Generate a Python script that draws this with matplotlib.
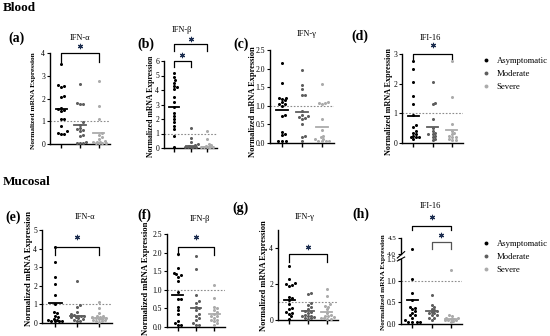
import matplotlib.pyplot as plt
from matplotlib.lines import Line2D

plt.rcParams['font.family'] = ['Liberation Serif', 'DejaVu Serif']

W, H = 550, 336
groups = ["Asymptomatic", "Moderate", "Severe"]
colors = ["#000000", "#5e5e5e", "#ababab"]

# ---- Blood ----
# (a) IFN-alpha
a_asym = [3.5, 2.6, 2.55, 2.5, 2.1, 2.05, 1.6, 1.55, 1.5, 1.45, 1.1, 1.1, 0.8, 0.55, 0.5, 0.45, 0.45]
a_mod = [2.65, 1.8, 1.75, 1.75, 0.95, 0.85, 0.7, 0.65, 0.6, 0.55, 0.4, 0.35, 0.1, 0.05, 0.05, 0.05]
a_sev = [2.75, 1.65, 1.1, 0.5, 0.4, 0.3, 0.2, 0.15, 0.1, 0.1, 0.1, 0.05, 0.05, 0.05, 0.05]
a_mean = [1.55, 0.85, 0.5]
# (b) IFN-beta
b_asym = [5.2, 4.9, 4.7, 4.5, 4.3, 4.2, 4.1, 3.5, 3.2, 2.8, 2.4, 2.2, 2.0, 1.8, 1.5, 1.3, 0.8, 0.05]
b_mod = [1.35, 0.7, 0.4, 0.25, 0.2, 0.15, 0.1, 0.1, 0.05, 0.05, 0.05, 0.05]
b_sev = [1.15, 0.65, 0.3, 0.2, 0.15, 0.1, 0.05, 0.05, 0.05, 0.05, 0.05]
b_mean = [2.8, 0.15, 0.1]
# (c) IFN-gamma
c_asym = [2.15, 1.62, 1.22, 1.2, 1.18, 1.15, 1.1, 1.05, 1.05, 1.0, 0.75, 0.72, 0.3, 0.25, 0.22, 0.05, 0.05, 0.05]
c_mod = [1.95, 1.55, 1.45, 1.3, 1.28, 0.85, 0.75, 0.72, 0.7, 0.68, 0.65, 0.5, 0.2, 0.15, 0.05]
c_sev = [1.58, 1.1, 1.08, 1.07, 1.05, 0.65, 0.35, 0.2, 0.15, 0.12, 0.1, 0.05, 0.05, 0.05, 0.05]
c_mean = [0.88, 0.82, 0.43]
# (d) IFI-16
d_asym = [2.75, 2.5, 2.05, 1.6, 1.3, 0.95, 0.6, 0.55, 0.4, 0.35, 0.3, 0.25, 0.2, 0.2, 0.2, 0.15]
d_mod = [2.05, 1.35, 1.3, 0.8, 0.5, 0.4, 0.35, 0.3, 0.3, 0.25, 0.2, 0.15, 0.1]
d_sev = [2.75, 1.55, 0.65, 0.4, 0.35, 0.3, 0.25, 0.2, 0.2, 0.15, 0.1, 0.1]
d_mean = [0.9, 0.55, 0.45]

# ---- Mucosal ----
e_asym = [4.1, 3.3, 2.5, 2.1, 1.5, 1.0, 0.6, 0.55, 0.4, 0.3, 0.2, 0.15, 0.15, 0.1, 0.1, 0.1, 0.1]
e_mod = [2.25, 0.95, 0.85, 0.6, 0.5, 0.45, 0.4, 0.4, 0.35, 0.3, 0.3, 0.25, 0.2, 0.15, 0.1, 0.1]
e_sev = [1.15, 0.8, 0.55, 0.4, 0.35, 0.3, 0.3, 0.25, 0.25, 0.2, 0.2, 0.15, 0.15, 0.1, 0.1, 0.05]
e_mean = [1.1, 0.4, 0.25]
f_asym = [1.97, 1.58, 1.45, 1.42, 1.4, 1.35, 1.25, 0.95, 0.75, 0.75, 0.55, 0.45, 0.35, 0.15, 0.1, 0.05, 0.05]
f_mod = [1.92, 1.55, 0.85, 0.7, 0.65, 0.55, 0.5, 0.45, 0.35, 0.3, 0.25, 0.2, 0.1, 0.05, 0.05]
f_sev = [1.12, 0.78, 0.55, 0.5, 0.45, 0.4, 0.35, 0.3, 0.3, 0.25, 0.2, 0.2, 0.15, 0.1, 0.05]
f_mean = [0.87, 0.52, 0.36]
g_asym = [3.0, 2.3, 2.05, 2.0, 1.95, 1.9, 1.3, 1.2, 1.1, 0.9, 0.65, 0.6, 0.45, 0.4, 0.35, 0.2, 0.05]
g_mod = [1.5, 1.45, 0.95, 0.85, 0.7, 0.6, 0.5, 0.45, 0.4, 0.3, 0.25, 0.2, 0.2, 0.15, 0.1, 0.1, 0.05]
g_sev = [1.75, 1.35, 0.9, 0.8, 0.75, 0.6, 0.4, 0.3, 0.25, 0.2, 0.15, 0.1, 0.1, 0.05, 0.05]
g_mean = [1.1, 0.5, 0.45]
h_asym = [4.15, 1.05, 0.72, 0.55, 0.4, 0.38, 0.35, 0.3, 0.25, 0.2, 0.2, 0.15, 0.1, 0.05, 0.05, 0.05, 0.05]
h_mod = [0.67, 0.45, 0.4, 0.35, 0.32, 0.3, 0.28, 0.25, 0.25, 0.2, 0.2, 0.15, 0.15, 0.1]
h_sev = [1.25, 0.2, 0.18, 0.15, 0.15, 0.12, 0.12, 0.1, 0.1, 0.1, 0.08, 0.05]
h_mean = [0.55, 0.3, 0.12]

fig = plt.figure(figsize=(W / 100, H / 100), dpi=100)


def px_axes(l, t, r, b):
    return fig.add_axes([l / W, 1 - b / H, (r - l) / W, (b - t) / H])


def ftext(x, y, s, **kw):
    fig.text(x / W, 1 - y / H, s, **kw)


def swarm(ax, vals, xc, d=2.9, max_off=7.5):
    # compact beeswarm in pixel space, overlaps allowed when crowded
    placed = []
    xs, ys = [], []
    x0 = ax.transData.transform((xc, 0))[0]
    inv = ax.transData.inverted()
    offs = [0.0]
    k = 1
    while k * 0.5 * d <= max_off:
        offs += [k * 0.5 * d, -k * 0.5 * d]
        k += 1
    for v in sorted(vals):
        yp = ax.transData.transform((xc, v))[1]
        best, best_d = 0.0, -1
        for off in offs:
            md = min([((off + x0 - px) ** 2 + (yp - py) ** 2) ** 0.5 for px, py in placed] + [99])
            if md >= d:
                best = off
                break
            if md > best_d:
                best, best_d = off, md
        placed.append((x0 + best, yp))
        xs.append(inv.transform((x0 + best, yp))[0])
        ys.append(v)
    return xs, ys


def style(ax, ylim, yticks, fmt="{:g}", bottom=True):
    ax.set_xlim(0.4, 3.6)
    ax.set_ylim(*ylim)
    ax.set_yticks(yticks)
    ax.set_yticklabels([fmt.format(t) for t in yticks])
    ax.spines[['top', 'right']].set_visible(False)
    ax.spines['left'].set_linewidth(1.0)
    ax.spines['bottom'].set_linewidth(1.0)
    ax.set_xticks([1, 2, 3])
    ax.set_xticklabels([])
    ax.tick_params(axis='x', length=3, width=1.0)
    ax.tick_params(axis='y', length=2.5, width=0.8, labelsize=5.5, pad=1)
    if not bottom:
        ax.spines['bottom'].set_visible(False)
        ax.tick_params(axis='x', length=0)


def draw_groups(ax, data, means, dotted=True):
    if dotted:
        ax.axhline(1, color="#8c8c8c", lw=0.8, ls=(0, (1.5, 1.5)), zorder=1)
    for i, (vals, m) in enumerate(zip(data, means)):
        xs, ys = swarm(ax, vals, i + 1)
        ax.plot(xs, ys, 'o', ms=2.2, mew=0, color=colors[i], clip_on=False, zorder=3)
        ax.plot([i + 1 - 0.3, i + 1 + 0.3], [m, m], color=colors[i], lw=1.3, zorder=4)


def bracket(ax, x1, x2, y, leg, ys, color="black"):
    ax.plot([x1, x1, x2, x2], [y - leg, y, y, y - leg], color=color, lw=0.9, clip_on=False)
    ax.plot([(x1 + x2) / 2], [ys], marker=(6, 2, 0), ms=3.8, mew=0.8, color="#1c2d4f",
            ls='none', clip_on=False)


panels = [
    # rect, ylim, ticks, fmt, data, means, title, title pos, label pos/size
    ((50, 53, 110, 144), (0, 4), [0, 1, 2, 3, 4], "{:g}", (a_asym, a_mod, a_sev), a_mean,
     "IFN-α", (80, 38), (33, 101, 5.3)),
    ((164, 61, 217, 148), (0, 6), [0, 1, 2, 3, 4, 5, 6], "{:g}", (b_asym, b_mod, b_sev), b_mean,
     "IFN-β", (182, 30), (151, 106, 5.6)),
    ((270, 50, 334, 143), (0, 2.5), [0, 0.5, 1, 1.5, 2, 2.5], "{:.1f}", (c_asym, c_mod, c_sev), c_mean,
     "IFN-γ", (307, 34), (253, 102, 6.0)),
    ((402, 54, 463, 143), (0, 3), [0, 1, 2, 3], "{:g}", (d_asym, d_mod, d_sev), d_mean,
     "IFI-16", (430, 38), (389, 102, 5.9)),
    ((42, 230, 112, 323), (0, 5), [0, 1, 2, 3, 4, 5], "{:g}", (e_asym, e_mod, e_sev), e_mean,
     "IFN-α", (85, 217), (29, 268, 6.3)),
    ((167, 234, 225, 327), (0, 2.5), [0, 0.5, 1, 1.5, 2, 2.5], "{:.1f}", (f_asym, f_mod, f_sev), f_mean,
     "IFN-β", (200, 219), (146, 278, 6.2)),
    ((278, 230, 338, 320), (0, 5), [0, 2, 4], "{:g}", (g_asym, g_mod, g_sev), g_mean,
     "IFN-γ", (305, 217), (264, 276, 6.0)),
]

axes = []
for rect, ylim, ticks, fmt, data, means, title, tpos, lab in panels:
    ax = px_axes(*rect)
    style(ax, ylim, ticks, fmt)
    draw_groups(ax, data, means)
    axes.append(ax)
    ftext(tpos[0], tpos[1], title, ha="center", va="center", fontsize=6)
    ftext(lab[0], lab[1], "Normalized mRNA Expression", rotation=90, ha="center", va="center",
          fontsize=lab[2], fontweight="bold")

ax_a, ax_b, ax_c, ax_d, ax_e, ax_f, ax_g = axes
bracket(ax_a, 1, 3, 4.0, 0.4, 4.3)
bracket(ax_b, 1, 3, 7.2, 0.5, 7.55)
bracket(ax_b, 1, 2, 6.0, 0.4, 6.4)
bracket(ax_d, 1, 3, 3.0, 0.17, 3.3)
bracket(ax_e, 1, 3, 4.1, 0.45, 4.6)
bracket(ax_f, 1, 3, 2.15, 0.22, 2.42)
bracket(ax_g, 1, 3, 3.65, 0.45, 4.05)

# (h) IFI-16 mucosal, broken y axis
h_low = px_axes(401, 259, 462, 324)
style(h_low, (0, 1.5), [0, 0.5, 1.0, 1.5], "{:.1f}")
h_up = px_axes(401, 238, 462, 254)
style(h_up, (4.0, 4.5), [4.0, 4.5], "{:.1f}", bottom=False)
h_up.tick_params(axis='y', labelsize=5.0)
h_low.axhline(1, color="#8c8c8c", lw=0.8, ls=(0, (1.5, 1.5)), zorder=1)
for i, (vals, m) in enumerate(zip((h_asym, h_mod, h_sev), h_mean)):
    low = [v for v in vals if v <= 1.5]
    high = [v for v in vals if v >= 4.0]
    xs, ys = swarm(h_low, low, i + 1)
    h_low.plot(xs, ys, 'o', ms=2.2, mew=0, color=colors[i], clip_on=False, zorder=3)
    if high:
        xs, ys = swarm(h_up, high, i + 1)
        h_up.plot(xs, ys, 'o', ms=2.2, mew=0, color=colors[i], clip_on=False, zorder=3)
    h_low.plot([i + 1 - 0.3, i + 1 + 0.3], [m, m], color=colors[i], lw=1.3, zorder=4)
# break marks on the y axis
h_up.plot([-0.06, 0.06], [-0.25, 0.15], transform=h_up.transAxes, color="black", lw=0.8, clip_on=False)
h_low.plot([-0.06, 0.06], [0.97, 1.03], transform=h_low.transAxes, color="black", lw=0.8, clip_on=False)
bracket(h_up, 1, 3, 4.875, 0.12, 5.17)
bracket(h_up, 2, 3, 4.375, 0.22, 4.58, color="#555555")
ftext(430, 206, "IFI-16", ha="center", va="center", fontsize=6)
ftext(383, 282, "Normalized mRNA Expression", rotation=90, ha="center", va="center",
      fontsize=5.2, fontweight="bold")

# panel labels and section headers
for s, x, y in [("(a)", 8, 38), ("(b)", 137, 44), ("(c)", 233, 44), ("(d)", 351, 36),
                ("(e)", 5, 217), ("(f)", 137, 215), ("(g)", 232, 208), ("(h)", 352, 214)]:
    ftext(x, y, s, ha="left", va="center", fontsize=10, fontweight="bold")
ftext(3, 8, "Blood", ha="left", va="center", fontsize=9.5, fontweight="bold")
ftext(3, 182, "Mucosal", ha="left", va="center", fontsize=9.5, fontweight="bold")

# legends
handles = [Line2D([], [], marker='o', ls='none', ms=2.8, mew=0, color=c) for c in colors]
for y in (57, 240):
    fig.legend(handles, groups, loc="upper left", bbox_to_anchor=(482 / W, 1 - y / H),
               frameon=False, fontsize=6.2, handlelength=1.0, handletextpad=0.7,
               labelspacing=0.55, borderpad=0, borderaxespad=0)

fig.savefig("out.png", dpi=100)
